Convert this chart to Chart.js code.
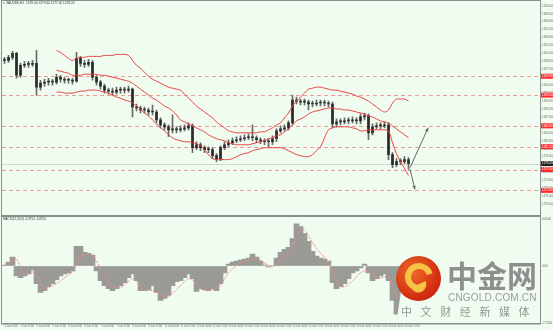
<!DOCTYPE html>
<html><head><meta charset="utf-8">
<script src="https://cdn.jsdelivr.net/npm/chart.js@4.4.1/dist/chart.umd.min.js"></script>
<style>
html,body{margin:0;padding:0;background:#f0fcf0;}
#wrap{position:relative;width:553px;height:330px;overflow:hidden;background:#f0fcf0;}
#c1{position:absolute;left:0;top:0;width:553px;height:216px;}
#c2{position:absolute;left:0;top:216px;width:553px;height:114px;}
.lg{position:absolute;white-space:nowrap;line-height:1;}
#mask{left:396px;top:256px;width:144px;height:67px;background:#f0fcf0;clip-path:polygon(10px 2px,144px 2px,144px 67px,2px 67px,1px 62px);}
#circ{left:396px;top:256px;width:45px;height:45px;border-radius:50%;background:radial-gradient(circle at 38% 35%,#ee6a2a,#d0280f 70%,#b81c0a);}
#ring{left:405px;top:263px;width:16px;height:16px;border-radius:50%;border:6px solid #f6c445;border-right-color:transparent;transform:rotate(30deg);}
#tail{left:412px;top:284px;width:16px;height:8px;border-radius:0 0 10px 10px;background:#f6c445;transform:rotate(-25deg);}
#cn{left:447px;top:259px;font-family:"Noto Sans CJK SC";font-weight:bold;font-size:30px;color:#8e8e8e;}
#en{left:448px;top:293px;font-family:"Liberation Sans";font-size:10px;color:#9a9a9a;letter-spacing:0.2px;}
#sub{left:401px;top:306px;font-family:"Noto Sans CJK SC";font-size:11px;color:#969696;letter-spacing:8.6px;}
</style></head>
<body><div id="wrap">
<canvas id="c1" width="553" height="216"></canvas>
<canvas id="c2" width="553" height="114"></canvas>
<div class="lg" id="mask"></div>
<div class="lg" id="circ"></div>
<div class="lg" id="ring"></div>
<div class="lg" id="tail"></div>
<div class="lg" id="cn">中金网</div>
<div class="lg" id="en">CNGOLD.COM.CN</div>
<div class="lg" id="sub">中文财经新媒体</div>
</div>
<script>
// ---------- DATA ----------
const headerText = "\u25BE XAUUSD,H1  1279.40 1279.40 1277.00 1278.20";
const macdText = "MACD(12,26,9) -5.3750 -5.8750";
const firstOpen = 1299.0;
const closes = [1299.0,1299.6,1300.4,1296.0,1298.0,1298.2,1298.2,1298.4,1293.6,1294.4,
 1294.6,1294.8,1294.6,1295.6,1295.2,1295.0,1295.0,1294.8,1299.4,1298.4,
 1298.2,1298.6,1295.6,1294.6,1293.8,1293.0,1292.8,1292.6,1293.0,1293.0,
 1293.0,1293.2,1289.6,1289.4,1289.0,1289.0,1288.6,1288.6,1287.0,1286.0,
 1285.6,1285.0,1285.0,1285.0,1285.2,1285.4,1285.8,1281.4,1282.0,1281.4,
 1281.0,1281.0,1279.8,1279.2,1281.4,1282.0,1282.4,1282.8,1283.0,1283.2,
 1283.4,1283.6,1283.4,1283.0,1282.8,1282.6,1282.6,1283.2,1284.8,1285.2,
 1285.4,1286.4,1291.0,1290.8,1290.6,1290.6,1290.2,1290.2,1290.4,1290.4,
 1290.4,1290.2,1286.2,1286.6,1286.6,1286.8,1286.8,1287.0,1286.8,1287.6,
 1287.8,1284.4,1285.6,1285.8,1285.8,1286.0,1280.0,1278.0,1278.6,1278.6,
 1279.0,1278.2];
const highs = [1299.6,1300.0,1300.8,1300.6,1298.4,1298.8,1298.8,1299.0,1301.0,1295.0,
 1295.2,1295.4,1295.2,1296.2,1296.0,1295.6,1295.4,1295.4,1300.6,1299.8,
 1299.0,1299.2,1299.0,1296.0,1295.0,1294.2,1293.4,1293.4,1293.6,1293.6,
 1293.6,1293.8,1293.4,1290.2,1289.8,1289.6,1289.4,1290.0,1289.0,1287.4,
 1286.4,1286.0,1288.0,1285.6,1285.8,1286.0,1286.4,1286.2,1282.6,1282.4,
 1281.8,1281.6,1281.4,1280.2,1281.8,1282.6,1283.0,1283.4,1283.6,1283.8,
 1284.0,1284.2,1286.0,1283.8,1283.4,1283.2,1283.2,1283.8,1285.2,1285.8,
 1286.0,1286.8,1292.0,1291.6,1291.2,1291.2,1291.0,1290.8,1291.0,1291.0,
 1291.0,1290.8,1290.6,1287.2,1287.2,1287.4,1287.4,1287.6,1287.4,1288.2,
 1288.4,1288.2,1286.2,1286.4,1286.4,1286.6,1286.4,1280.4,1279.2,1279.2,
 1279.6,1279.4];
const lows = [1298.4,1298.6,1299.2,1295.4,1295.6,1297.6,1297.6,1297.8,1292.0,1293.0,
 1293.8,1294.0,1294.0,1294.2,1294.6,1294.4,1294.4,1294.2,1294.6,1297.8,
 1297.6,1297.8,1295.0,1294.0,1293.2,1292.4,1292.2,1292.0,1292.2,1292.4,
 1292.4,1292.6,1287.6,1288.8,1288.4,1288.4,1288.0,1288.0,1286.4,1285.4,
 1285.0,1283.6,1284.4,1284.4,1284.6,1284.8,1285.0,1280.4,1281.0,1280.8,
 1280.4,1280.4,1279.2,1278.6,1278.8,1281.0,1281.6,1282.0,1282.4,1282.6,
 1282.8,1283.0,1282.8,1282.4,1282.2,1282.0,1281.6,1282.0,1282.6,1284.4,
 1284.8,1285.0,1286.0,1290.2,1290.0,1290.0,1289.0,1289.6,1289.8,1289.8,
 1289.8,1289.6,1285.4,1285.6,1286.0,1286.2,1286.2,1286.4,1286.2,1286.2,
 1287.0,1283.0,1284.0,1285.2,1285.2,1285.4,1279.0,1277.4,1277.6,1278.0,
 1278.2,1277.0];
const bandStart = 13;
const bbUpper = [1301.0,1300.6,1300.0,1299.4,1299.0,1299.4,1299.6,1299.6,1299.8,1299.8,
 1299.8,1299.8,1300.0,1300.0,1300.0,1300.2,1300.2,1300.2,1300.0,1299.0,
 1298.0,1297.4,1296.6,1295.8,1295.2,1294.8,1294.4,1294.0,1293.6,1293.4,
 1293.2,1293.0,1292.2,1291.4,1290.6,1289.8,1289.2,1288.6,1288.0,1287.4,
 1286.6,1286.0,1285.4,1284.8,1284.6,1284.4,1284.4,1284.4,1284.4,1284.4,
 1284.4,1284.6,1284.6,1285.0,1285.4,1286.0,1286.4,1287.4,1288.4,1289.8,
 1290.8,1291.6,1292.4,1293.2,1293.4,1293.6,1293.6,1293.4,1293.2,1293.0,
 1293.0,1292.8,1292.6,1292.4,1292.2,1291.8,1291.6,1291.2,1290.8,1290.2,
 1289.6,1289.0,1288.6,1289.0,1290.4,1291.2,1291.2,1291.2,1290.8];
const bbMiddle = [1297.0,1296.8,1296.6,1296.4,1296.0,1296.0,1296.0,1296.2,1296.2,1296.2,
 1296.2,1296.0,1296.0,1295.8,1295.6,1295.4,1295.2,1295.0,1294.8,1294.4,
 1293.8,1293.2,1292.6,1292.0,1291.4,1291.0,1290.4,1289.8,1289.4,1288.8,
 1288.0,1287.0,1286.6,1286.2,1285.8,1285.4,1285.0,1284.6,1284.0,1283.6,
 1283.2,1283.0,1282.8,1282.4,1282.2,1282.0,1282.0,1282.0,1282.0,1282.2,
 1282.4,1282.6,1282.8,1283.2,1283.4,1283.8,1284.0,1284.6,1285.2,1286.0,
 1286.8,1287.2,1287.6,1288.2,1288.6,1288.8,1289.0,1289.2,1289.4,1289.4,
 1289.2,1289.2,1289.0,1289.0,1288.8,1288.6,1288.4,1288.2,1287.8,1287.6,
 1287.2,1286.8,1286.6,1286.4,1285.8,1285.2,1284.6,1284.0,1283.4];
const bbLower = [1292.6,1292.6,1292.4,1292.4,1292.4,1292.6,1292.8,1292.8,1293.0,1293.0,
 1293.0,1292.8,1292.6,1292.4,1292.0,1291.6,1291.4,1291.0,1290.8,1290.4,
 1289.8,1289.2,1288.4,1287.8,1287.0,1286.2,1285.4,1284.8,1284.0,1283.4,
 1283.0,1282.8,1282.6,1282.6,1282.4,1282.2,1281.8,1281.0,1280.0,1279.2,
 1279.0,1279.0,1279.0,1279.0,1279.2,1279.6,1280.0,1280.2,1280.4,1280.8,
 1281.0,1281.2,1281.4,1281.4,1281.4,1281.4,1281.4,1281.2,1280.8,1280.4,
 1280.0,1279.8,1279.6,1279.6,1280.0,1280.8,1281.6,1283.4,1285.0,1285.4,
 1285.6,1285.6,1285.6,1285.6,1285.4,1285.2,1284.8,1284.8,1285.0,1285.0,
 1285.0,1285.0,1285.0,1284.8,1282.4,1280.2,1278.6,1277.2,1275.8];
const levels = [1295.80, 1292.00, 1285.80, 1281.60, 1277.00, 1272.80];
const bidPrice = 1278.20;
const arrowUp = [[101.4, 1277.4], [105.9, 1285.4]];
const arrowDown = [[101.4, 1277.0], [102.6, 1273.0]];
const priceTicks = [1310.00,1308.40,1306.80,1305.20,1303.60,1302.00,1300.40,1298.80,1297.20,1295.60,
 1294.00,1292.40,1290.80,1289.20,1287.60,1286.00,1284.40,1282.80,1281.20,1279.60,
 1278.00,1276.40,1274.80,1273.20,1271.60,1270.00];
const macdHist = [0.125,0.5,1.125,-1.25,-1.5,-1.25,-1.0,-0.5,-2.25,-3.375,
 -3.125,-2.625,-2.25,-1.75,-1.25,-1.0,-0.875,-0.625,2.5,2.5,
 1.75,1.625,1.375,-0.625,-1.875,-2.5,-2.875,-3.125,-2.875,-2.5,
 -2.125,-1.5,-1.0,-1.875,-3.125,-3.125,-3.0,-2.5,-3.375,-4.375,
 -4.125,-3.75,-2.5,-2.0,-1.875,-1.5,-1.0,-1.625,-3.25,-2.875,
 -3.0,-3.125,-2.875,-3.125,-2.25,-0.875,0.25,0.5,0.625,0.75,
 0.875,1.0,1.5,1.125,0.625,0.125,-0.125,0,1.0,1.75,
 2.125,2.375,3.5,5.375,5.0,4.125,3.125,1.875,1.25,1.0,
 0.875,0.625,-2.125,-2.875,-2.625,-2.25,-1.625,-0.875,-0.625,-0.25,
 0.25,-0.875,-1.875,-1.625,-1.25,-1.0,-1.875,-4.375,-6.125,-6.625,
 -6.25,-5.375];
const macdSignal = [0,0.375,0.75,0.875,-0.125,-1.125,-1.0,-0.75,-1.25,-2.25,
 -2.875,-2.75,-2.5,-2.25,-1.875,-1.5,-1.125,-0.75,0.25,1.25,
 1.5,1.5,1.375,0.625,-0.25,-1.25,-2.125,-2.625,-2.75,-2.75,
 -2.375,-2.0,-1.625,-2.0,-2.625,-3.0,-3.125,-3.125,-3.375,-3.625,
 -3.875,-3.875,-3.5,-3.0,-2.5,-2.0,-1.625,-1.75,-2.375,-2.875,
 -3.125,-3.125,-3.0,-2.875,-2.5,-1.625,-0.875,-0.375,0.125,0.375,
 0.625,0.75,0.875,1.0,0.75,0.375,0.125,0,0.25,0.75,
 1.25,1.625,2.625,3.75,4.5,4.625,3.875,3.0,2.25,1.625,
 1.125,0.25,-0.625,-1.75,-2.625,-2.625,-2.375,-1.875,-1.375,-0.875,
 -0.625,-0.625,-0.875,-1.5,-1.5,-1.375,-1.25,-2.5,-3.625,-4.375,
 -5.125,-5.875];
const macdTicks = [6.0, 0, -7.25];
const macdTickLabels = ["6.0000", "0.00", "-7.2500"];
const timeSlots = [0,4,8,12,16,20,24,28,32,36,40,44,48,52,56,60,64,68,72,76,80,84,88,92,96,100];
const timeLabels = ["4 Jun 2018","4 Jun 12:00","5 Jun 00:00","5 Jun 12:00","6 Jun 00:00","6 Jun 12:00",
 "7 Jun 00:00","7 Jun 12:00","8 Jun 00:00","8 Jun 12:00","11 Jun 00:00","11 Jun 12:00",
 "12 Jun 00:00","12 Jun 12:00","13 Jun 00:00","13 Jun 12:00","14 Jun 00:00","14 Jun 12:00",
 "15 Jun 00:00","15 Jun 12:00","18 Jun 00:00","18 Jun 12:00","19 Jun 00:00","19 Jun 12:00",
 "20 Jun 00:00","20 Jun 12:00"];

// ---------- BUILD ----------
const X_MIN = -0.625, X_MAX = 133.875;
const FONT = '"Liberation Sans", Arial, sans-serif';
const opens = closes.map((c, i) => i === 0 ? firstOpen : closes[i - 1]);
const wickData = lows.map((l, i) => ({x: i, y: [l, highs[i]]}));
const bodyData = closes.map((c, i) => ({x: i, y: [opens[i], c]}));
const band = arr => arr.map((v, k) => ({x: bandStart + k, y: v}));
const pts = arr => arr.map(p => ({x: p[0], y: p[1]}));

function drawHead(ctx, p0, p1) {
  const ang = Math.atan2(p1.y - p0.y, p1.x - p0.x);
  const s = 4;
  ctx.beginPath();
  ctx.moveTo(p1.x, p1.y);
  ctx.lineTo(p1.x - s * Math.cos(ang - 0.45), p1.y - s * Math.sin(ang - 0.45));
  ctx.lineTo(p1.x - s * Math.cos(ang + 0.45), p1.y - s * Math.sin(ang + 0.45));
  ctx.closePath();
  ctx.fill();
}

const mainDecor = {
  id: 'mainDecor',
  beforeDatasetsDraw(chart) {
    const {ctx, chartArea: a, scales: {y}} = chart;
    ctx.save();
    ctx.lineWidth = 1;
    ctx.strokeStyle = 'rgba(236,150,150,0.95)';
    ctx.setLineDash([4, 3]);
    levels.forEach(v => {
      const py = Math.round(y.getPixelForValue(v)) + 0.5;
      ctx.beginPath(); ctx.moveTo(a.left, py); ctx.lineTo(a.right, py); ctx.stroke();
    });
    ctx.setLineDash([]);
    ctx.strokeStyle = '#d2dad2';
    const by = Math.round(y.getPixelForValue(bidPrice)) + 0.5;
    ctx.beginPath(); ctx.moveTo(a.left, by); ctx.lineTo(a.right, by); ctx.stroke();
    ctx.restore();
  },
  afterDraw(chart) {
    const {ctx, scales: {y}} = chart;
    ctx.save();
    ctx.strokeStyle = '#8c8c8c'; ctx.lineWidth = 1;
    ctx.strokeRect(1.5, 0.5, 539, 215);
    ctx.fillStyle = '#666';
    ['arrowUp', 'arrowDown'].forEach(lbl => {
      const idx = chart.data.datasets.findIndex(d => d.label === lbl);
      const m = chart.getDatasetMeta(idx).data;
      drawHead(ctx, m[m.length - 2], m[m.length - 1]);
    });
    ctx.font = '3px ' + FONT; ctx.textBaseline = 'middle'; ctx.textAlign = 'left';
    levels.forEach(v => {
      const py = y.getPixelForValue(v);
      ctx.fillStyle = '#ff2a2a'; ctx.fillRect(541, py - 2.5, 12, 5);
      ctx.fillStyle = '#ffffff'; ctx.fillText(v.toFixed(2), 542, py);
    });
    const by = y.getPixelForValue(bidPrice);
    ctx.fillStyle = '#222'; ctx.fillRect(541, by - 2.5, 12, 5);
    ctx.fillStyle = '#fff'; ctx.fillText(bidPrice.toFixed(2), 542, by);
    ctx.fillStyle = '#333'; ctx.font = '3.2px ' + FONT; ctx.textBaseline = 'top';
    ctx.fillText(headerText, 3, 1.5);
    ctx.restore();
  }
};

const macdDecor = {
  id: 'macdDecor',
  afterDraw(chart) {
    const {ctx} = chart;
    ctx.save();
    ctx.strokeStyle = '#8c8c8c'; ctx.lineWidth = 1;
    ctx.strokeRect(1.5, 0.5, 539, 107.5);
    ctx.fillStyle = '#333'; ctx.font = '3px ' + FONT; ctx.textBaseline = 'top';
    ctx.fillText(macdText, 3, 2);
    ctx.restore();
  }
};

new Chart(document.getElementById('c1'), {
  type: 'bar',
  data: {
    datasets: [
      {type: 'line', label: 'upper', data: band(bbUpper), borderColor: '#f23c3c', borderWidth: 1, pointRadius: 0, tension: 0.35, order: 0},
      {type: 'line', label: 'middle', data: band(bbMiddle), borderColor: '#f23c3c', borderWidth: 1, pointRadius: 0, tension: 0.35, order: 0},
      {type: 'line', label: 'lower', data: band(bbLower), borderColor: '#f23c3c', borderWidth: 1, pointRadius: 0, tension: 0.35, order: 0},
      {type: 'line', label: 'arrowUp', data: pts(arrowUp), borderColor: '#666', borderWidth: 1, pointRadius: 0, order: 0},
      {type: 'line', label: 'arrowDown', data: pts(arrowDown), borderColor: '#666', borderWidth: 1, pointRadius: 0, order: 0},
      {type: 'bar', label: 'body', data: bodyData, backgroundColor: '#2a2a2a', barThickness: 2, minBarLength: 1, grouped: false, order: 1},
      {type: 'bar', label: 'wick', data: wickData, backgroundColor: '#6a6a6a', barThickness: 1, grouped: false, order: 2}
    ]
  },
  options: {
    responsive: false, animation: false, devicePixelRatio: 1,
    layout: {padding: {left: 2, top: 2, right: 0, bottom: 2}, autoPadding: false},
    plugins: {legend: {display: false}, tooltip: {enabled: false}},
    scales: {
      x: {type: 'linear', min: X_MIN, max: X_MAX, offset: false, display: false, grid: {offset: false}},
      y: {
        position: 'right', min: 1268.2, max: 1310.6,
        afterFit(s) { s.width = 13; },
        afterBuildTicks(s) { s.ticks = priceTicks.map(v => ({value: v})); },
        grid: {display: true, drawOnChartArea: false, drawTicks: true, tickLength: 1, color: '#8c8c8c'},
        border: {display: true, color: '#8c8c8c'},
        ticks: {autoSkip: false, padding: 1, color: '#666', font: {size: 3, family: FONT}, callback: v => Number(v).toFixed(2)}
      }
    }
  },
  plugins: [mainDecor]
});

new Chart(document.getElementById('c2'), {
  type: 'bar',
  data: {
    datasets: [
      {type: 'line', label: 'signal', data: macdSignal.map((v, i) => ({x: i, y: v})), borderColor: '#f08a8a', borderWidth: 1, borderDash: [2, 1], pointRadius: 0, tension: 0.3, order: 0},
      {type: 'bar', label: 'hist', data: macdHist.map((v, i) => ({x: i, y: v})), backgroundColor: '#9a9a96', barThickness: 5, grouped: false, order: 1}
    ]
  },
  options: {
    responsive: false, animation: false, devicePixelRatio: 1,
    layout: {padding: {left: 2, top: 1, right: 0, bottom: 0}, autoPadding: false},
    plugins: {legend: {display: false}, tooltip: {enabled: false}},
    scales: {
      x: {
        type: 'linear', min: X_MIN, max: X_MAX, offset: false,
        afterFit(s) { s.height = 7; },
        afterBuildTicks(s) { s.ticks = timeSlots.map(v => ({value: v})); },
        grid: {display: true, offset: false, drawOnChartArea: false, drawTicks: true, tickLength: 1, color: '#8c8c8c'},
        border: {display: true, color: '#8c8c8c'},
        ticks: {autoSkip: false, maxRotation: 0, minRotation: 0, align: 'start', padding: 1, color: '#666', font: {size: 2.6, family: FONT},
          callback: (v, i) => timeLabels[i]}
      },
      y: {
        position: 'right', min: -7.25, max: 6.0,
        afterFit(s) { s.width = 13; },
        afterBuildTicks(s) { s.ticks = macdTicks.map(v => ({value: v})); },
        grid: {display: true, drawOnChartArea: false, drawTicks: true, tickLength: 1, color: '#8c8c8c'},
        border: {display: true, color: '#8c8c8c'},
        ticks: {autoSkip: false, padding: 1, color: '#666', font: {size: 3, family: FONT}, callback: (v, i) => macdTickLabels[i]}
      }
    }
  },
  plugins: [macdDecor]
});
</script>
</body></html>
